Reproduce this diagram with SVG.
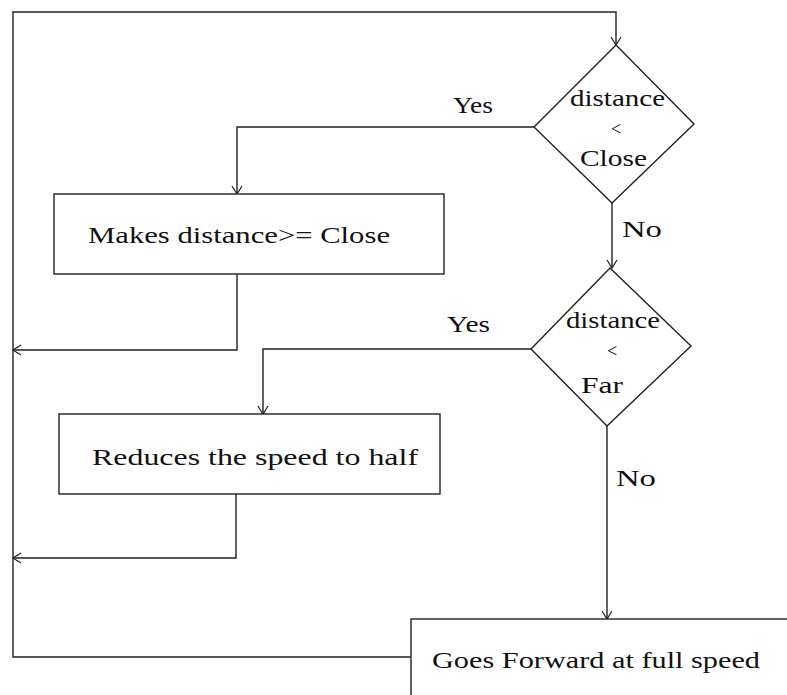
<svg xmlns="http://www.w3.org/2000/svg" width="787" height="695" viewBox="0 0 787 695">
<defs>
<marker id="arr" viewBox="-10 -6 12 12" markerWidth="12" markerHeight="12" refX="0" refY="0" orient="auto" markerUnits="userSpaceOnUse">
<path d="M-8,-5 L0,0 L-8,5" fill="none" stroke="#222" stroke-width="1.2"/>
</marker>
</defs>
<style>
.shape{fill:#fff;stroke:#222;stroke-width:1.4}
.line{fill:none;stroke:#222;stroke-width:1.4}
text{font-family:"Liberation Serif","Times New Roman",serif;font-size:23px;fill:#111}
.mid{text-anchor:middle}
.lt{font-size:18px}
</style>
<rect width="787" height="695" fill="#fff"/>
<g id="connectors">
<polyline class="line" points="413,657 13,657 13,12 616,12 616,45" marker-end="url(#arr)"/>
<polyline class="line" points="534,127 237,127 237,194" marker-end="url(#arr)"/>
<polyline class="line" points="237,274 237,350 13,350" marker-end="url(#arr)"/>
<polyline class="line" points="612,203 612,268" marker-end="url(#arr)"/>
<polyline class="line" points="531,349 263,349 263,414" marker-end="url(#arr)"/>
<polyline class="line" points="236,494 236,558 13,558" marker-end="url(#arr)"/>
<polyline class="line" points="607,426 607,619" marker-end="url(#arr)"/>
<text x="453" y="113" textLength="40" lengthAdjust="spacingAndGlyphs">Yes</text>
<text x="622" y="237" textLength="40" lengthAdjust="spacingAndGlyphs">No</text>
<text x="447" y="332" textLength="43" lengthAdjust="spacingAndGlyphs">Yes</text>
<text x="616" y="486" textLength="40" lengthAdjust="spacingAndGlyphs">No</text>
</g>
<g id="decision1">
<polygon class="shape" points="616,45 694,124 612,203 534,127"/>
<text x="570" y="106" textLength="95" lengthAdjust="spacingAndGlyphs">distance</text>
<text x="616" y="135" class="mid lt">&lt;</text>
<text x="580" y="166" textLength="67" lengthAdjust="spacingAndGlyphs">Close</text>
</g>
<g id="box1">
<rect class="shape" x="54" y="194" width="390" height="80"/>
<text x="88" y="243" textLength="302" lengthAdjust="spacingAndGlyphs">Makes distance&gt;= Close</text>
</g>
<g id="decision2">
<polygon class="shape" points="610,268 691,346 607,426 531,349"/>
<text x="566" y="328" textLength="94" lengthAdjust="spacingAndGlyphs">distance</text>
<text x="612" y="357" class="mid lt">&lt;</text>
<text x="581" y="393" textLength="42" lengthAdjust="spacingAndGlyphs">Far</text>
</g>
<g id="box2">
<rect class="shape" x="59" y="414" width="381" height="80"/>
<text x="92" y="465" textLength="326" lengthAdjust="spacingAndGlyphs">Reduces the speed to half</text>
</g>
<g id="box3">
<rect class="shape" x="411" y="619" width="390" height="90"/>
<text x="432" y="668" textLength="328" lengthAdjust="spacingAndGlyphs">Goes Forward at full speed</text>
</g>
</svg>
